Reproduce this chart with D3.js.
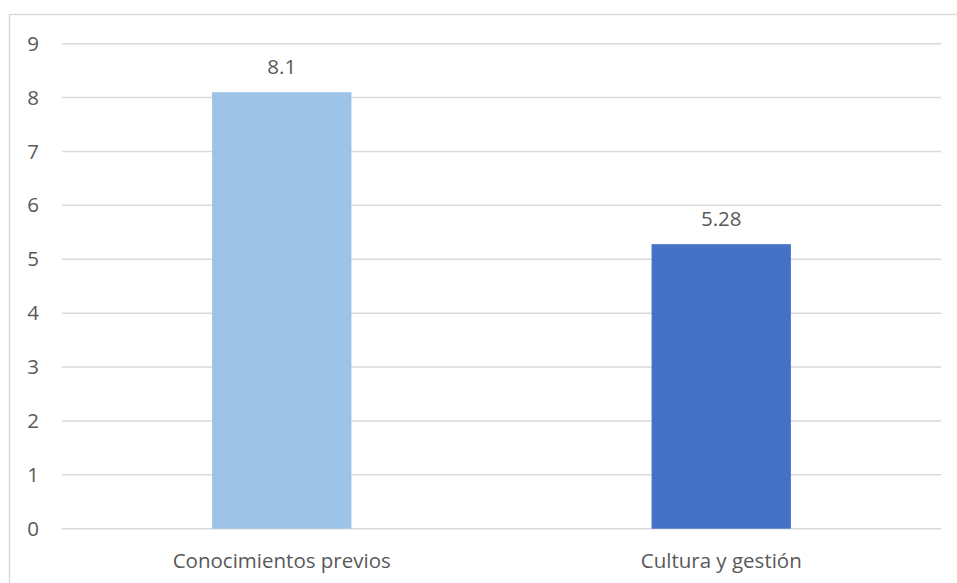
<!DOCTYPE html>
<html>
<head>
<meta charset="utf-8">
<script src="https://cdn.jsdelivr.net/npm/d3@7"></script>
<style>
  body { margin: 0; background: #fff; }
  text { font-family: "Open Sans", "Liberation Sans", sans-serif; fill: #595959; }
</style>
</head>
<body>
<div id="chart"></div>
<script>
const categories = ['Conocimientos previos', 'Cultura y gestión'];
const values = [8.1, 5.28];
const valueLabels = ['8.1', '5.28'];
const yTicks = [0, 1, 2, 3, 4, 5, 6, 7, 8, 9];
const barColors = ['#9dc3e6', '#4472c4'];

const width = 957, height = 583;
const margin = { top: 43.7, right: 16, bottom: 54.3, left: 62 };
const fontSize = 20.5;

const svg = d3.select('#chart').append('svg').attr('width', width).attr('height', height);

// chart area border (runs off the right and bottom)
svg.append('rect').attr('x', 9.5).attr('y', 14.5).attr('width', 1000).attr('height', 1000)
  .attr('fill', 'none').attr('stroke', '#d9d9d9').attr('stroke-width', 1.5);

const x = d3.scaleBand().domain(categories).range([margin.left, width - margin.right])
  .paddingInner(0.683).paddingOuter(0.3415);
const y = d3.scaleLinear().domain([0, 9]).range([height - margin.bottom, margin.top]);

// gridlines
svg.append('g').selectAll('line').data(yTicks).enter().append('line')
  .attr('x1', margin.left).attr('x2', width - margin.right)
  .attr('y1', d => y(d)).attr('y2', d => y(d))
  .attr('stroke', '#d9d9d9').attr('stroke-width', 1.5);

// y axis labels
const yAxis = svg.append('g').attr('transform', `translate(${margin.left - 23},0)`)
  .call(d3.axisLeft(y).tickValues(yTicks).tickSize(0).tickPadding(0));
yAxis.select('.domain').remove();
yAxis.selectAll('text').style('font-size', fontSize + 'px').style('font-family', null).attr('fill', '#595959');

// bars
svg.selectAll('.bar').data(values).enter().append('rect')
  .attr('class', 'bar')
  .attr('x', (d, i) => x(categories[i]))
  .attr('width', x.bandwidth())
  .attr('y', d => y(d))
  .attr('height', d => y(0) - y(d))
  .attr('fill', (d, i) => barColors[i]);

// value labels
svg.selectAll('.val').data(values).enter().append('text')
  .attr('class', 'val')
  .attr('x', (d, i) => x(categories[i]) + x.bandwidth() / 2)
  .attr('y', d => y(d) - 18)
  .attr('text-anchor', 'middle').style('font-size', fontSize + 'px')
  .text((d, i) => valueLabels[i]);

// x axis labels
svg.selectAll('.cat').data(categories).enter().append('text')
  .attr('class', 'cat')
  .attr('x', d => x(d) + x.bandwidth() / 2)
  .attr('y', y(0) + 39.5)
  .attr('text-anchor', 'middle').style('font-size', fontSize + 'px')
  .text(d => d);
</script>
</body>
</html>
